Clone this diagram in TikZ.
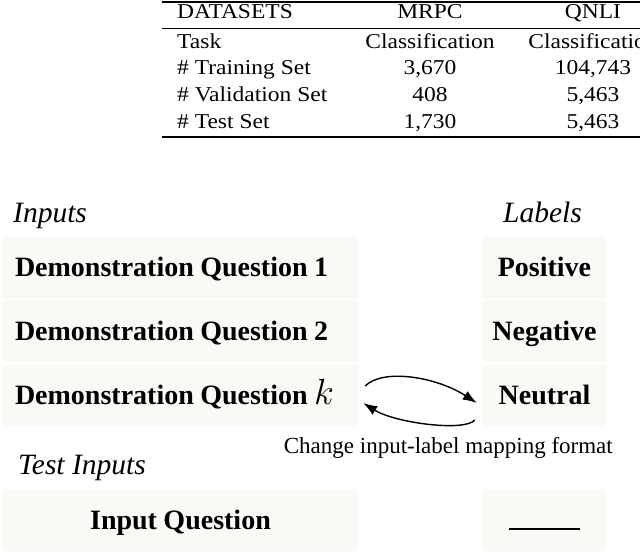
\RequirePackage{fix-cm}
\documentclass[tikz,border=0pt]{standalone}
\usepackage{fontspec}
\setmainfont{Liberation Serif}
\usepackage{graphicx}
\usetikzlibrary{arrows.meta}
\definecolor{boxfill}{HTML}{FAF9F5}
\newcommand{\tsc}[1]{\scalebox{1}[0.9]{#1}}
\begin{document}
\begin{tikzpicture}[x=1pt,y=-1pt,
  tab/.style={font=\fontsize{23.5}{28}\selectfont, inner sep=0pt},
  qbox/.style={fill=boxfill, rounded corners=4pt, minimum height=62pt, text width=331pt,
    inner xsep=13pt, inner ysep=0pt, align=left, text height=18.5pt, text depth=0pt,
    font=\fontsize{28}{32}\selectfont\bfseries,
    execute at begin node={\spaceskip=0.23em\relax}},
  lbox/.style={fill=boxfill, rounded corners=4pt, minimum height=62pt, minimum width=125pt,
    inner sep=0pt, align=center, text height=18.5pt, text depth=0pt,
    font=\fontsize{28}{32}\selectfont\bfseries},
  head/.style={font=\fontsize{29.5}{34}\selectfont\itshape, inner sep=0pt, anchor=base west},
  arr/.style={line width=1.4pt, -{Latex[length=14pt,width=10pt]}}
]
\useasboundingbox (0,0) rectangle (640,554);

% table
\draw[line width=1.4pt] (162,2) -- (640,2);
\draw[line width=0.9pt] (162,28.5) -- (640,28.5);
\draw[line width=1.4pt] (162,137) -- (640,137);

\node[tab, anchor=base west] (h1) at (177,19) {\tsc{DATASETS}};
\node[tab, anchor=base] (h2) at (430,19) {\tsc{MRPC}};
\node[tab, anchor=base] (h3) at (593,19) {\tsc{QNLI}};

\node[tab, anchor=base west] (r1a) at (177,48) {\tsc{Task}};
\node[tab, anchor=base] (r1b) at (430,48) {\tsc{Classification}};
\node[tab, anchor=base] (r1c) at (593,48) {\tsc{Classification}};

\node[tab, anchor=base west] (r2a) at (177,74.5) {\tsc{\# Training Set}};
\node[tab, anchor=base] (r2b) at (430,74.5) {\tsc{3,670}};
\node[tab, anchor=base] (r2c) at (593,74.5) {\tsc{104,743}};

\node[tab, anchor=base west] (r3a) at (177,101.5) {\tsc{\# Validation Set}};
\node[tab, anchor=base] (r3b) at (430,101.5) {\tsc{408}};
\node[tab, anchor=base] (r3c) at (593,101.5) {\tsc{5,463}};

\node[tab, anchor=base west] (r4a) at (177,128) {\tsc{\# Test Set}};
\node[tab, anchor=base] (r4b) at (430,128) {\tsc{1,730}};
\node[tab, anchor=base] (r4c) at (593,128) {\tsc{5,463}};

% headings
\node[head] (inp) at (13,222) {Inputs};
\node[head] (lab) at (503,222) {Labels};
\node[head] (tinp) at (18,474) {Test Inputs};

% boxes
\node[qbox] (q1) at (180.5,267.5) {Demonstration Question 1};
\node[qbox] (q2) at (180.5,331) {Demonstration Question 2};
\node[qbox] (qk) at (180.5,395) {Demonstration Question \scalebox{1.3}{$k$}};
\node[lbox] (l1) at (544.5,267.5) {Positive};
\node[lbox] (l2) at (544.5,331) {Negative};
\node[lbox] (lk) at (544.5,395) {Neutral};

\node[qbox, align=center] (tq) at (180.5,520.5) {Input Question};
\node[lbox] (tl) at (544.5,520.5) {\rule{71pt}{1.3pt}};

% change caption
\node[font=\fontsize{23}{28}\selectfont, anchor=base east, inner sep=0pt] (chg) at (613,453)
  {Change input-label mapping format};

% arrows
\draw[arr] ([shift={(6,-9)}]qk.east) .. controls +(18,-18) and +(-40,-26) .. ([shift={(-5,8)}]lk.west);
\draw[arr] ([shift={(-7,25)}]lk.west) .. controls +(-10,12) and +(32,20) .. ([shift={(4,8)}]qk.east);
\end{tikzpicture}
\end{document}
